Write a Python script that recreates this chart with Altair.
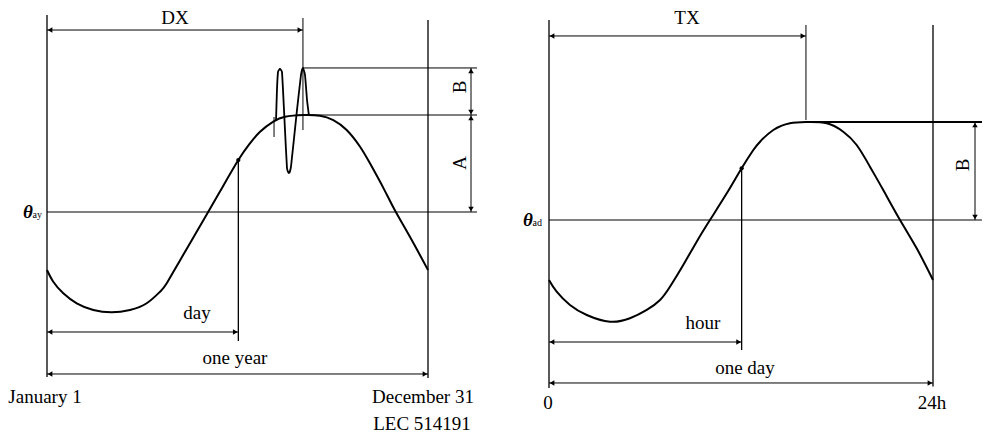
import altair as alt
import pandas as pd

# ---------------- left panel: annual cycle (x = day of year, y = temperature units, theta_ay = 10)
year_curve_day = [0, 6.0, 15.6, 28.5, 44.4, 62.0, 79.5, 95.5, 108.3, 114.7, 127.4, 140.2, 153.0,
                  165.7, 183.3, 194.5, 204.1, 216.8, 228.0, 245.5, 261.5, 274.3, 287.1, 299.9,
                  309.4, 322.2, 333.4, 347.8, 365]
year_curve_val = [4.02, 2.81, 1.62, 0.59, -0.10, -0.34, -0.10, 0.59, 1.78, 2.65, 5.01, 7.37, 9.75,
                  12.11, 15.36, 17.08, 18.28, 19.31, 19.82, 20.0, 19.93, 19.48, 18.45, 16.73,
                  15.02, 12.49, 10.15, 7.42, 4.02]
spike_day = [219.4, 220.3, 221.3, 223.2, 225.1, 226.1, 228.0, 229.9, 231.8, 233.8, 239.5, 243.3,
             245.2, 247.2, 249.1, 251.0]
spike_val = [19.38, 22.58, 24.43, 24.74, 24.43, 22.58, 18.45, 14.54, 14.02, 14.74, 20.52, 24.12,
             24.85, 24.12, 21.55, 19.90]
year_day_marker = 183.3
year_dx = 245.2
year_mean = 10.0
year_peak = 20.0
year_spike_top = 24.85

# ---------------- right panel: daily cycle (x = hour, theta_ad = 10)
day_curve_hour = [0, 0.48, 1.31, 2.36, 3.81, 5.06, 6.11, 6.94, 7.56, 8.39, 9.23, 10.06, 11.11, 12.04,
                  12.77, 13.19, 14.02, 15.06, 16.11, 17.36, 18.39, 19.23, 20.06, 20.89, 21.94,
                  22.98, 24.0]
day_curve_val = [3.88, 2.68, 1.33, 0.31, -0.38, -0.03, 0.82, 1.84, 3.19, 5.41, 7.79, 10.0, 12.72,
                 15.28, 17.14, 17.99, 19.18, 19.87, 20.0, 19.87, 19.01, 17.65, 15.44, 13.06, 10.0,
                 7.11, 3.88]
day_hour_marker = 12.04
day_tx = 16.06
day_mean = 10.0
day_peak = 20.0

FONT = "Liberation Serif"

# rules: x, x2, y, y2, width
left_rules = pd.DataFrame([
    dict(x=0, x2=0, y=-7.01, y2=30.31, w=1.3),
    dict(x=365, x2=365, y=-7.11, y2=29.79, w=1.3),
    dict(x=year_dx, x2=year_dx, y=18.45, y2=30.0, w=1.0),
    dict(x=217.5, x2=217.5, y=17.73, y2=19.79, w=1.0),
    dict(x=year_day_marker, x2=year_day_marker, y=-3.30, y2=15.36, w=1.3),
    dict(x=0, x2=412, y=year_mean, y2=year_mean, w=1.0),
    dict(x=year_dx, x2=412, y=year_spike_top, y2=year_spike_top, w=1.0),
    dict(x=year_dx, x2=412, y=year_peak, y2=year_peak, w=1.0),
])
left_harrows = pd.DataFrame([
    dict(x=0, x2=year_dx, y=28.76),
    dict(x=0, x2=year_day_marker, y=-2.37),
    dict(x=0, x2=365, y=-6.70),
])
left_varrows = pd.DataFrame([
    dict(x=406.2, y=year_peak, y2=year_spike_top),
    dict(x=406.2, y=year_mean, y2=year_peak),
])
left_texts = pd.DataFrame([
    dict(x=122.6, y=30.0, t="DX"),
    dict(x=143.7, y=-0.41, t="day"),
    dict(x=180.1, y=-5.05, t="one year"),
    dict(x=-1.9, y=-9.07, t="January 1"),
    dict(x=360.2, y=-9.07, t="December 31"),
    dict(x=359.3, y=-11.86, t="LEC 514191"),
])
left_rot = pd.DataFrame([dict(x=395.7, y=22.89, t="B"), dict(x=395.7, y=15.05, t="A")])
left_theta = pd.DataFrame([dict(x=-4.8, y=year_mean, t="θ", s="ay")])
left_dots = pd.DataFrame([dict(x=year_day_marker, y=15.36)])

right_rules = pd.DataFrame([
    dict(x=0, x2=0, y=-7.14, y2=30.41, w=1.3),
    dict(x=24, x2=24, y=-7.0, y2=29.90, w=1.3),
    dict(x=day_tx, x2=day_tx, y=20.2, y2=29.90, w=1.0),
    dict(x=day_hour_marker, x2=day_hour_marker, y=-3.27, y2=15.28, w=1.3),
    dict(x=0, x2=27.06, y=day_mean, y2=day_mean, w=1.0),
    dict(x=day_tx, x2=27.06, y=day_peak, y2=day_peak, w=2.0),
])
right_harrows = pd.DataFrame([
    dict(x=0, x2=day_tx, y=28.78),
    dict(x=0, x2=day_hour_marker, y=-2.45),
    dict(x=0, x2=24, y=-6.63),
])
right_varrows = pd.DataFrame([dict(x=26.625, y=day_mean, y2=day_peak)])
right_texts = pd.DataFrame([
    dict(x=8.625, y=30.61, t="TX"),
    dict(x=9.625, y=-0.51, t="hour"),
    dict(x=12.25, y=-5.10, t="one day"),
    dict(x=-0.06, y=-8.67, t="0"),
    dict(x=23.94, y=-8.67, t="24h"),
])
right_rot = pd.DataFrame([dict(x=25.875, y=15.61, t="B")])
right_theta = pd.DataFrame([dict(x=-0.44, y=day_mean, t="θ", s="ad")])
right_dots = pd.DataFrame([dict(x=day_hour_marker, y=15.28)])

HEAD_SIZE = 30
HEAD_OFF = 3


def panel(xdom, xrng, ydom, yrng, curve, spike, rules, harrows, varrows, texts, rot, theta, dots):
    sx = alt.Scale(domain=xdom, range=xrng, nice=False, zero=False)
    sy = alt.Scale(domain=ydom, range=yrng, nice=False, zero=False)
    X = alt.X("x:Q", scale=sx, axis=None)
    Y = alt.Y("y:Q", scale=sy, axis=None)
    X2 = alt.X("x2:Q", scale=sx, axis=None)
    Y2 = alt.Y("y2:Q", scale=sy, axis=None)
    layers = []
    layers.append(alt.Chart(rules).mark_rule(color="black").encode(
        x=X, x2="x2:Q", y=Y, y2="y2:Q", strokeWidth=alt.StrokeWidth("w:Q", scale=None)))
    layers.append(alt.Chart(curve).mark_line(color="black", strokeWidth=2, interpolate="natural").encode(
        x=X, y=Y, order="i:Q"))
    if spike is not None:
        layers.append(alt.Chart(spike).mark_line(color="black", strokeWidth=1.8, interpolate="cardinal",
                                                 tension=0.6).encode(x=X, y=Y, order="i:Q"))
    layers.append(alt.Chart(harrows).mark_rule(color="black", strokeWidth=1).encode(x=X, x2="x2:Q", y=Y))
    layers.append(alt.Chart(harrows).mark_point(shape="triangle-left", filled=True, color="black",
                                                size=HEAD_SIZE, opacity=1, xOffset=HEAD_OFF).encode(x=X, y=Y))
    layers.append(alt.Chart(harrows).mark_point(shape="triangle-right", filled=True, color="black",
                                                size=HEAD_SIZE, opacity=1, xOffset=-HEAD_OFF).encode(x=X2, y=Y))
    layers.append(alt.Chart(varrows).mark_rule(color="black", strokeWidth=1).encode(x=X, y=Y, y2="y2:Q"))
    layers.append(alt.Chart(varrows).mark_point(shape="triangle-down", filled=True, color="black",
                                                size=HEAD_SIZE, opacity=1, yOffset=-HEAD_OFF).encode(x=X, y=Y))
    layers.append(alt.Chart(varrows).mark_point(shape="triangle-up", filled=True, color="black",
                                                size=HEAD_SIZE, opacity=1, yOffset=HEAD_OFF).encode(x=X, y=Y2))
    layers.append(alt.Chart(dots).mark_circle(color="black", size=18, opacity=1).encode(x=X, y=Y))
    layers.append(alt.Chart(texts).mark_text(font=FONT, fontSize=19, color="black").encode(
        x=X, y=Y, text="t:N"))
    layers.append(alt.Chart(rot).mark_text(font=FONT, fontSize=19, color="black", angle=270).encode(
        x=X, y=Y, text="t:N"))
    layers.append(alt.Chart(theta).mark_text(font=FONT, fontSize=19, fontWeight="bold", fontStyle="italic",
                                             color="black", align="right", dx=-9).encode(x=X, y=Y, text="t:N"))
    layers.append(alt.Chart(theta).mark_text(font=FONT, fontSize=10, color="black", align="right",
                                             dy=3).encode(x=X, y=Y, text="s:N"))
    return alt.layer(*layers)


left_curve = pd.DataFrame({"x": year_curve_day, "y": year_curve_val, "i": range(len(year_curve_day))})
left_spike = pd.DataFrame({"x": spike_day, "y": spike_val, "i": range(len(spike_day))})
right_curve = pd.DataFrame({"x": day_curve_hour, "y": day_curve_val, "i": range(len(day_curve_hour))})

left = panel([0, 365], [39, 420], [0, 20], [301, 107], left_curve, left_spike, left_rules,
             left_harrows, left_varrows, left_texts, left_rot, left_theta, left_dots)
right = panel([0, 24], [541, 925], [0, 20], [310, 114], right_curve, None, right_rules,
              right_harrows, right_varrows, right_texts, right_rot, right_theta, right_dots)

chart = alt.layer(left, right).resolve_scale(x="independent", y="independent").properties(
    width=975, height=429, padding=0, autosize=alt.AutoSizeParams(type="none"),
    background="white",
).configure_view(stroke=None)

chart.save("out.html", embed_options={"renderer": "svg", "actions": False})
